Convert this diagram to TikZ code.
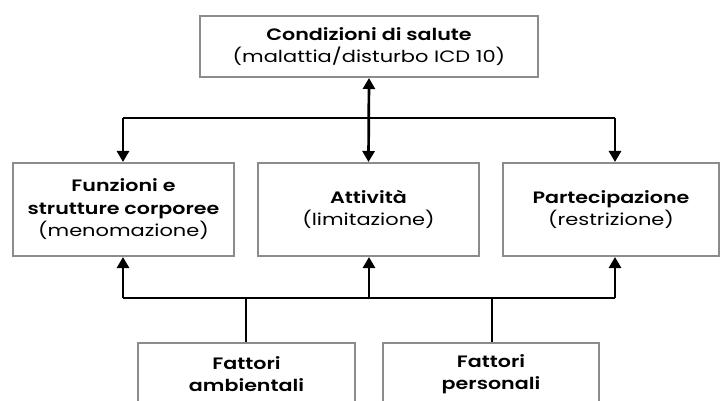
\documentclass[tikz,border=0pt]{standalone}
\usepackage{fontspec}
\setmainfont{Poppins}[FakeStretch=1.27, BoldFont={Poppins SemiBold}, BoldFeatures={FakeStretch=1.25}]
\usetikzlibrary{arrows.meta}
\definecolor{boxgray}{HTML}{8C8C8C}
\tikzset{
  box/.style={draw=boxgray, line width=2pt, fill=white, align=center, inner sep=0pt,
    font=\fontsize{16.5}{22.5}\selectfont},
  conn/.style={draw=black, line width=2.7pt},
  arr/.style={conn, -{Triangle[width=12pt,length=11pt]}},
  darr/.style={conn, {Triangle[width=12pt,length=11pt]}-{Triangle[width=12pt,length=11pt]}}
}
\begin{document}
\begin{tikzpicture}[x=1pt,y=-1pt]
\useasboundingbox (0,0) rectangle (721,401);
\clip (0,0) rectangle (721,401);
\fill[white] (0,0) rectangle (721,401);

\node[box, minimum width=338pt, minimum height=61pt] (top) at (369,46.5)
  {\textbf{Condizioni di salute}\\(malattia/disturbo ICD 10)};
\node[box, minimum width=221pt, minimum height=93pt] (b1) at (123.5,209.5)
  {\textbf{Funzioni e}\\\textbf{strutture corporee}\\(menomazione)};
\node[box, minimum width=221pt, minimum height=93pt] (b2) at (368.5,209.5)
  {\textbf{Attività}\\(limitazione)};
\node[box, minimum width=216pt, minimum height=93pt] (b3) at (611,209.5)
  {\textbf{Partecipazione}\\(restrizione)};
\node[box, minimum width=217pt, minimum height=62pt] (fa) at (246.5,374)
  {\textbf{Fattori}\\\textbf{ambientali}};
\node[box, minimum width=216pt, minimum height=62pt] (fp) at (491,374)
  {\textbf{Fattori}\\\textbf{personali}};

\coordinate (tL) at (123,118);
\coordinate (tR) at (615,118);
\coordinate (bL) at (123,298);
\coordinate (bM) at (369,298);
\coordinate (bR) at (615,298);
\coordinate (jA) at (246,298);
\coordinate (jP) at (492,298);

\draw[darr] (top.south) -- (b2.north);
\draw[conn] (tL) -- (tR);
\draw[arr] (tL) -- (tL |- b1.north);
\draw[arr] (tR) -- (tR |- b3.north);

\draw[conn] (bL) -- (bR);
\draw[arr] (bL) -- (bL |- b1.south);
\draw[arr] (bM) -- (bM |- b2.south);
\draw[arr] (bR) -- (bR |- b3.south);
\draw[conn] (jA) -- (jA |- fa.north);
\draw[conn] (jP) -- (jP |- fp.north);
\end{tikzpicture}
\end{document}
